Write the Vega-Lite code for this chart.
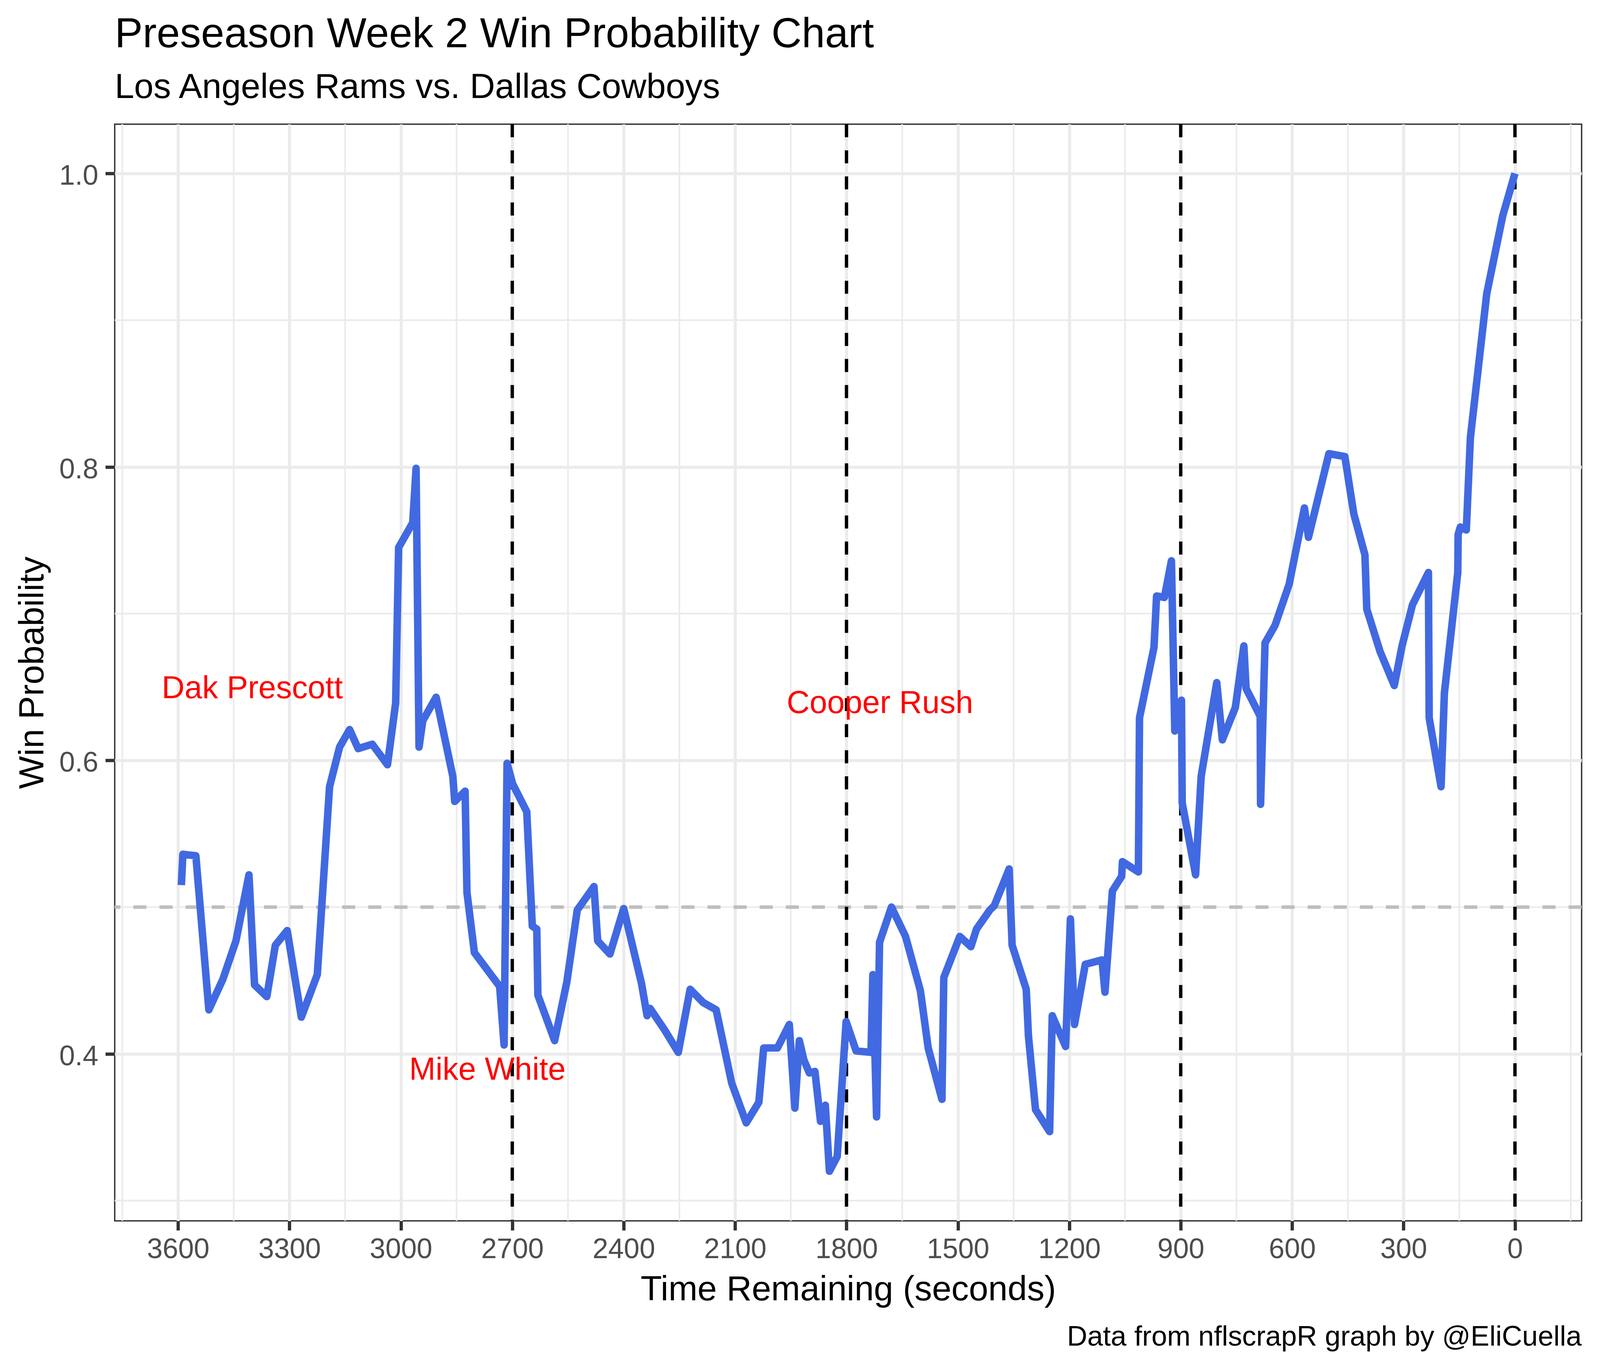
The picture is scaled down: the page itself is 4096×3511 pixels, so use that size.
{
  "$schema": "https://vega.github.io/schema/vega-lite/v6.json",
  "width": 3755.3,
  "height": 2808.4,
  "autosize": {"type": "none"},
  "padding": {"left": 293.66, "top": 318.08, "right": 47.05, "bottom": 384.55},
  "background": "white",
  "config": {
    "font": "Liberation Sans",
    "view": {"stroke": "#333333", "strokeWidth": 3.5}
  },
  "title": {
    "text": "Preseason Week 2 Win Probability Chart",
    "subtitle": "Los Angeles Rams vs. Dallas Cowboys",
    "anchor": "start",
    "frame": "group",
    "font": "Liberation Sans",
    "subtitleFont": "Liberation Sans",
    "fontSize": 107.4,
    "subtitleFontSize": 89.4,
    "fontWeight": "normal",
    "subtitleFontWeight": "normal",
    "color": "black",
    "subtitleColor": "black",
    "subtitlePadding": 36.2,
    "offset": 44.5
  },
  "datasets": {
    "wp": [
      {"t": 3591, "p": 0.515}, {"t": 3587, "p": 0.536}, {"t": 3552, "p": 0.535}, {"t": 3517, "p": 0.430},
      {"t": 3479, "p": 0.451}, {"t": 3444, "p": 0.477}, {"t": 3409, "p": 0.522}, {"t": 3394, "p": 0.447},
      {"t": 3361, "p": 0.439}, {"t": 3338, "p": 0.474}, {"t": 3306, "p": 0.484}, {"t": 3268, "p": 0.425},
      {"t": 3225, "p": 0.454}, {"t": 3192, "p": 0.582}, {"t": 3165, "p": 0.609}, {"t": 3138, "p": 0.621},
      {"t": 3115, "p": 0.608}, {"t": 3077, "p": 0.611}, {"t": 3036, "p": 0.597}, {"t": 3014, "p": 0.639},
      {"t": 3006, "p": 0.745}, {"t": 2968, "p": 0.762}, {"t": 2959, "p": 0.799}, {"t": 2951, "p": 0.609},
      {"t": 2941, "p": 0.627}, {"t": 2905, "p": 0.643}, {"t": 2860, "p": 0.589}, {"t": 2855, "p": 0.572},
      {"t": 2827, "p": 0.579}, {"t": 2822, "p": 0.510}, {"t": 2802, "p": 0.469}, {"t": 2734, "p": 0.446},
      {"t": 2722, "p": 0.406}, {"t": 2714, "p": 0.598}, {"t": 2699, "p": 0.584}, {"t": 2661, "p": 0.565},
      {"t": 2646, "p": 0.487}, {"t": 2634, "p": 0.485}, {"t": 2631, "p": 0.440}, {"t": 2586, "p": 0.409},
      {"t": 2553, "p": 0.449}, {"t": 2525, "p": 0.498}, {"t": 2480, "p": 0.514}, {"t": 2470, "p": 0.477},
      {"t": 2437, "p": 0.468}, {"t": 2400, "p": 0.499}, {"t": 2352, "p": 0.448}, {"t": 2337, "p": 0.426},
      {"t": 2329, "p": 0.431}, {"t": 2289, "p": 0.416}, {"t": 2253, "p": 0.401}, {"t": 2221, "p": 0.444},
      {"t": 2186, "p": 0.435}, {"t": 2151, "p": 0.430}, {"t": 2109, "p": 0.380}, {"t": 2070, "p": 0.353},
      {"t": 2036, "p": 0.367}, {"t": 2023, "p": 0.404}, {"t": 1986, "p": 0.404}, {"t": 1954, "p": 0.420},
      {"t": 1939, "p": 0.363}, {"t": 1927, "p": 0.409}, {"t": 1915, "p": 0.396}, {"t": 1900, "p": 0.387},
      {"t": 1885, "p": 0.388}, {"t": 1870, "p": 0.354}, {"t": 1857, "p": 0.365}, {"t": 1846, "p": 0.320},
      {"t": 1825, "p": 0.330}, {"t": 1801, "p": 0.422}, {"t": 1774, "p": 0.402}, {"t": 1734, "p": 0.401},
      {"t": 1729, "p": 0.454}, {"t": 1719, "p": 0.357}, {"t": 1711, "p": 0.476}, {"t": 1679, "p": 0.500},
      {"t": 1641, "p": 0.480}, {"t": 1601, "p": 0.443}, {"t": 1580, "p": 0.404}, {"t": 1543, "p": 0.369},
      {"t": 1538, "p": 0.452}, {"t": 1495, "p": 0.480}, {"t": 1465, "p": 0.473}, {"t": 1450, "p": 0.485},
      {"t": 1414, "p": 0.498}, {"t": 1402, "p": 0.501}, {"t": 1362, "p": 0.526}, {"t": 1354, "p": 0.474},
      {"t": 1316, "p": 0.444}, {"t": 1310, "p": 0.412}, {"t": 1291, "p": 0.362}, {"t": 1253, "p": 0.347},
      {"t": 1246, "p": 0.426}, {"t": 1210, "p": 0.405}, {"t": 1197, "p": 0.492}, {"t": 1186, "p": 0.420},
      {"t": 1157, "p": 0.461}, {"t": 1112, "p": 0.464}, {"t": 1104, "p": 0.442}, {"t": 1084, "p": 0.511},
      {"t": 1059, "p": 0.521}, {"t": 1057, "p": 0.531}, {"t": 1014, "p": 0.524}, {"t": 1011, "p": 0.629},
      {"t": 972, "p": 0.677}, {"t": 965, "p": 0.712}, {"t": 944, "p": 0.711}, {"t": 925, "p": 0.736},
      {"t": 916, "p": 0.620}, {"t": 898, "p": 0.641}, {"t": 896, "p": 0.571}, {"t": 860, "p": 0.522},
      {"t": 845, "p": 0.589}, {"t": 803, "p": 0.653}, {"t": 788, "p": 0.614}, {"t": 753, "p": 0.636},
      {"t": 730, "p": 0.678}, {"t": 724, "p": 0.649}, {"t": 686, "p": 0.630}, {"t": 685, "p": 0.570},
      {"t": 673, "p": 0.680}, {"t": 646, "p": 0.692}, {"t": 608, "p": 0.720}, {"t": 567, "p": 0.772},
      {"t": 556, "p": 0.752}, {"t": 501, "p": 0.809}, {"t": 458, "p": 0.807}, {"t": 434, "p": 0.768},
      {"t": 404, "p": 0.740}, {"t": 399, "p": 0.703}, {"t": 363, "p": 0.674}, {"t": 325, "p": 0.651},
      {"t": 304, "p": 0.678}, {"t": 276, "p": 0.706}, {"t": 233, "p": 0.728}, {"t": 231, "p": 0.629},
      {"t": 199, "p": 0.582}, {"t": 190, "p": 0.646}, {"t": 154, "p": 0.728}, {"t": 153, "p": 0.754},
      {"t": 147, "p": 0.759}, {"t": 131, "p": 0.757}, {"t": 120, "p": 0.820}, {"t": 76, "p": 0.918},
      {"t": 33, "p": 0.971}, {"t": 0, "p": 1.0}
    ],
    "minorx": [
      {"t": 3750}, {"t": 3450}, {"t": 3150}, {"t": 2850}, {"t": 2550}, {"t": 2250}, {"t": 1950},
      {"t": 1650}, {"t": 1350}, {"t": 1050}, {"t": 750}, {"t": 450}, {"t": 150}, {"t": -150}
    ],
    "minory": [{"p": 0.3}, {"p": 0.5}, {"p": 0.7}, {"p": 0.9}],
    "hline": [{"p": 0.5}],
    "vlines": [{"t": 2700}, {"t": 1800}, {"t": 900}, {"t": 0}],
    "notes": [
      {"t": 3400, "p": 0.65, "label": "Dak Prescott"},
      {"t": 2767, "p": 0.39, "label": "Mike White"},
      {"t": 1710, "p": 0.64, "label": "Cooper Rush"}
    ],
    "caption": [{"text": "Data from nflscrapR graph by @EliCuella"}]
  },
  "layer": [
    {
      "data": {"name": "minorx"},
      "mark": {"type": "rule", "color": "#EBEBEB", "strokeWidth": 4.2},
      "encoding": {
        "x": {
          "field": "t", "type": "quantitative",
          "scale": {"domain": [-179.5, 3770.5], "reverse": true, "nice": false, "zero": false},
          "axis": {
            "values": [0, 300, 600, 900, 1200, 1500, 1800, 2100, 2400, 2700, 3000, 3300, 3600],
            "format": "d",
            "grid": true, "gridColor": "#EBEBEB", "gridWidth": 7.8,
            "domain": false,
            "ticks": true, "tickColor": "#333333", "tickWidth": 8.4, "tickSize": 24.2,
            "labelFont": "Liberation Sans", "labelFontSize": 72, "labelColor": "#4D4D4D",
            "labelPadding": 14.3, "labelFlush": false, "labelOverlap": false,
            "title": "Time Remaining (seconds)",
            "titleFont": "Liberation Sans", "titleFontSize": 89.3, "titleFontWeight": "normal", "titleColor": "black",
            "titleBaseline": "alphabetic", "titleAlign": "center", "titleX": 1877.65, "titleY": 203.1
          }
        }
      }
    },
    {
      "data": {"name": "minory"},
      "mark": {"type": "rule", "color": "#EBEBEB", "strokeWidth": 4.2},
      "encoding": {
        "y": {
          "field": "p", "type": "quantitative",
          "scale": {"domain": [0.2862, 1.0335], "nice": false, "zero": false},
          "axis": {
            "values": [0.4, 0.6, 0.8, 1.0],
            "format": ".1f",
            "grid": true, "gridColor": "#EBEBEB", "gridWidth": 7.8,
            "domain": false,
            "ticks": true, "tickColor": "#333333", "tickWidth": 8.4, "tickSize": 24,
            "labelFont": "Liberation Sans", "labelFontSize": 72, "labelColor": "#4D4D4D",
            "labelPadding": 18.4, "labelBaseline": "middle", "labelOffset": 6.5,
            "labelFlush": false, "labelOverlap": false,
            "title": "Win Probability",
            "titleFont": "Liberation Sans", "titleFontSize": 89.3, "titleFontWeight": "normal", "titleColor": "black",
            "titleBaseline": "alphabetic", "titleAlign": "center", "titleAngle": 270,
            "titleX": -183.06, "titleY": 1404.2
          }
        }
      }
    },
    {
      "data": {"name": "hline"},
      "mark": {"type": "rule", "color": "#BEBEBE", "strokeWidth": 9, "strokeDash": [33.4, 33.4]},
      "encoding": {
        "y": {"field": "p", "type": "quantitative"}
      }
    },
    {
      "data": {"name": "vlines"},
      "mark": {"type": "rule", "color": "black", "strokeWidth": 8.6, "strokeDash": [33.4, 33.4]},
      "encoding": {
        "x": {"field": "t", "type": "quantitative"}
      }
    },
    {
      "data": {"name": "wp"},
      "mark": {"type": "line", "color": "#4169E1", "strokeWidth": 19.2, "strokeJoin": "round", "strokeCap": "butt"},
      "encoding": {
        "x": {"field": "t", "type": "quantitative"},
        "y": {"field": "p", "type": "quantitative"}
      }
    },
    {
      "data": {"name": "notes"},
      "mark": {"type": "text", "color": "#FF0000", "fontSize": 81, "font": "Liberation Sans", "align": "center", "baseline": "alphabetic", "dy": 29},
      "encoding": {
        "x": {"field": "t", "type": "quantitative"},
        "y": {"field": "p", "type": "quantitative"},
        "text": {"field": "label", "type": "nominal"}
      }
    },
    {
      "data": {"name": "caption"},
      "mark": {"type": "text", "x": "width", "y": "height", "dy": 319.6, "align": "right", "baseline": "alphabetic", "fontSize": 72, "font": "Liberation Sans", "color": "black"},
      "encoding": {
        "text": {"field": "text", "type": "nominal"}
      }
    }
  ]
}
